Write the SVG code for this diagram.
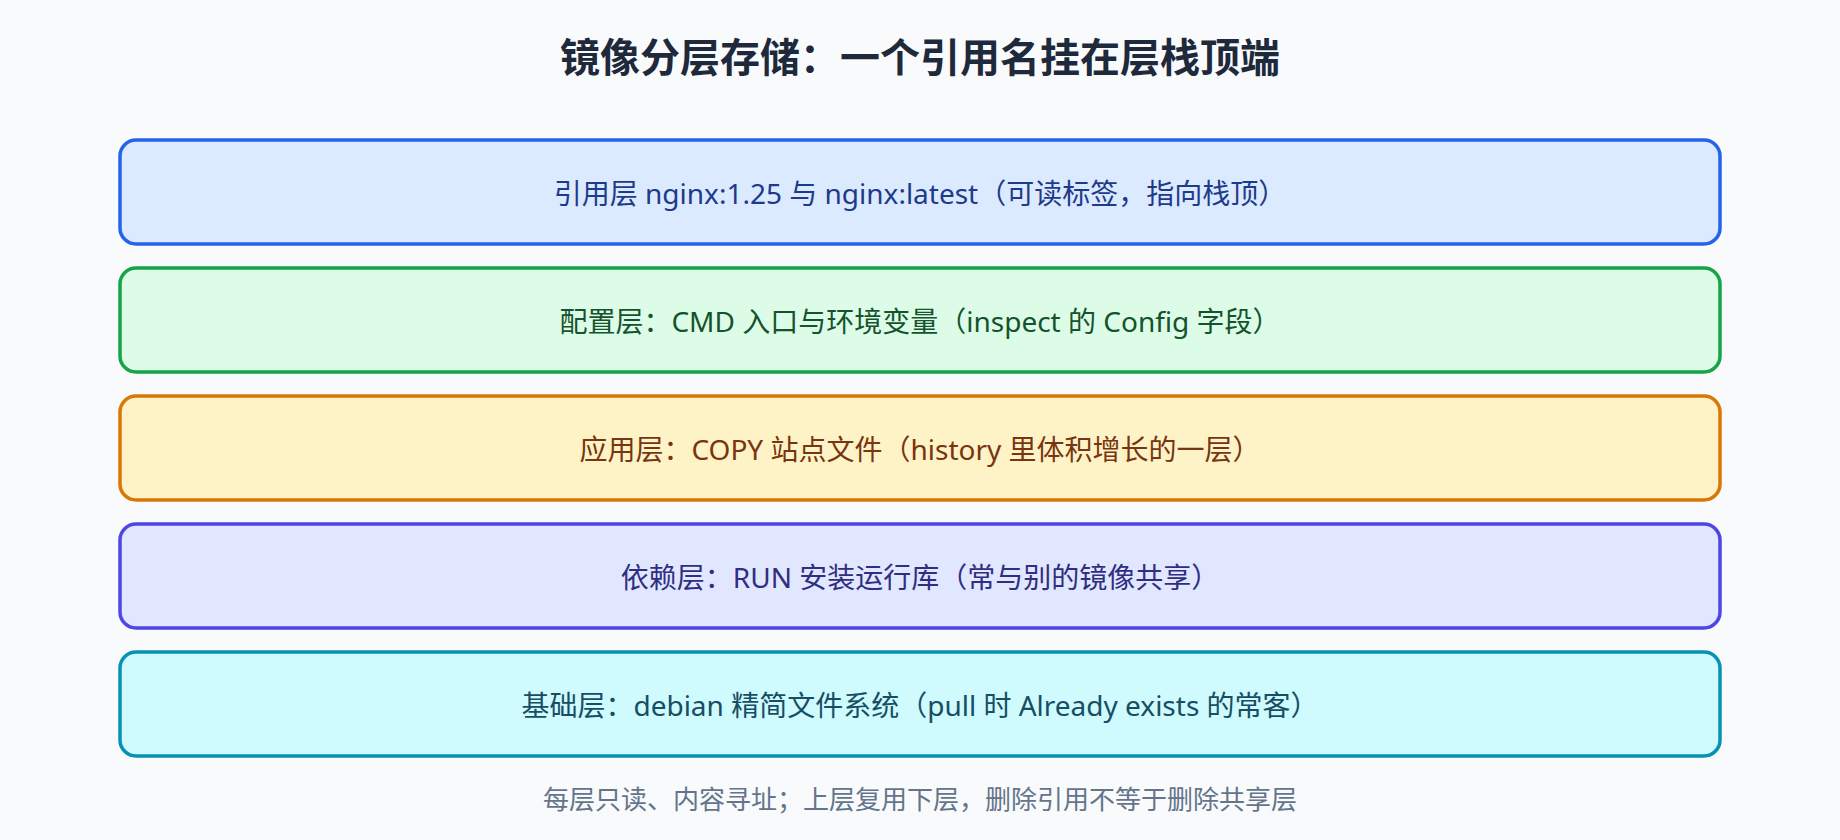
<svg xmlns="http://www.w3.org/2000/svg" width="1840" height="840" viewBox="0 0 1840 840">
<style>
.bg{fill:#f8fafc}
.title{font-family:"Noto Sans","Noto Sans CJK SC",sans-serif;font-size:40px;font-weight:700;fill:#1e293b;text-anchor:middle}
.box{stroke-width:3.5}
.lbl{font-family:"Noto Sans","Noto Sans CJK SC",sans-serif;font-size:28px;text-anchor:middle}
.note{font-family:"Noto Sans","Noto Sans CJK SC",sans-serif;font-size:26px;fill:#64748b;text-anchor:middle}
</style>
<rect class="bg" x="0" y="0" width="1840" height="840"/>
<text class="title" x="920" y="72">镜像分层存储：一个引用名挂在层栈顶端</text>
<g id="connectors"></g>
<g id="ref">
<rect class="box" x="120" y="140" width="1600" height="104" rx="16" fill="#dbeafe" stroke="#2563eb"/>
<text class="lbl" x="920" y="204" fill="#1e3a8a">引用层 nginx:1.25 与 nginx:latest（可读标签，指向栈顶）</text>
</g>
<g id="config">
<rect class="box" x="120" y="268" width="1600" height="104" rx="16" fill="#dcfce7" stroke="#16a34a"/>
<text class="lbl" x="920" y="332" fill="#14532d">配置层：CMD 入口与环境变量（inspect 的 Config 字段）</text>
</g>
<g id="app">
<rect class="box" x="120" y="396" width="1600" height="104" rx="16" fill="#fef3c7" stroke="#d97706"/>
<text class="lbl" x="920" y="460" fill="#78350f">应用层：COPY 站点文件（history 里体积增长的一层）</text>
</g>
<g id="deps">
<rect class="box" x="120" y="524" width="1600" height="104" rx="16" fill="#e0e7ff" stroke="#4f46e5"/>
<text class="lbl" x="920" y="588" fill="#312e81">依赖层：RUN 安装运行库（常与别的镜像共享）</text>
</g>
<g id="base">
<rect class="box" x="120" y="652" width="1600" height="104" rx="16" fill="#cffafe" stroke="#0891b2"/>
<text class="lbl" x="920" y="716" fill="#164e63">基础层：debian 精简文件系统（pull 时 Already exists 的常客）</text>
</g>
<text class="note" x="920" y="809">每层只读、内容寻址；上层复用下层，删除引用不等于删除共享层</text>
</svg>
